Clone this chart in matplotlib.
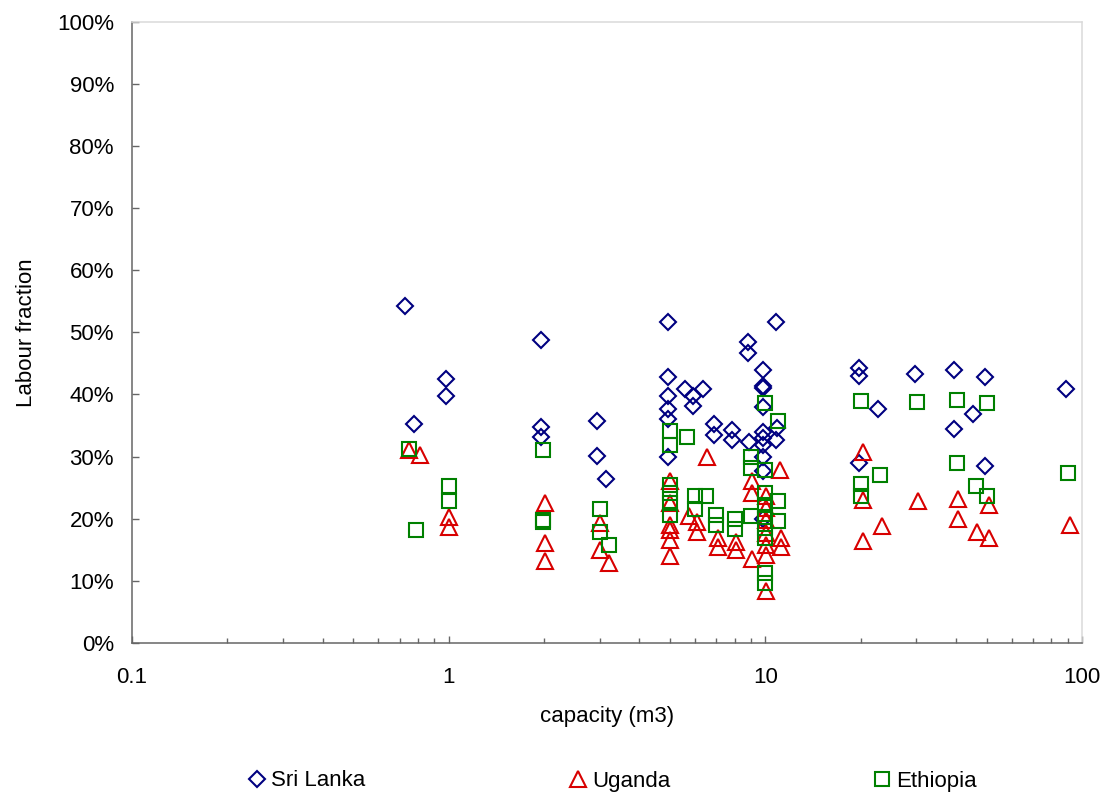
import matplotlib
matplotlib.use("Agg")
import matplotlib.pyplot as plt
from matplotlib.ticker import PercentFormatter, LogLocator, FixedLocator, NullFormatter, FixedFormatter
from matplotlib.lines import Line2D

plt.rcParams['font.family'] = ['Liberation Sans', 'DejaVu Sans']

# ---- data (capacity m3, labour fraction) ----
sri_x = [0.73, 0.78, 0.98, 0.98, 1.95, 1.95, 1.95, 2.93, 2.93, 3.13,
         4.91, 4.91, 4.91, 4.91, 4.91, 4.91,
         5.56, 5.9, 5.9, 6.36, 6.86, 6.86, 7.86, 7.86,
         8.79, 8.79, 8.85,
         9.84, 9.84, 9.84, 9.84, 9.84, 9.84, 9.84, 9.84, 9.84, 9.84,
         10.78, 10.9, 10.8,
         19.7, 19.7, 19.7, 22.7, 29.6, 39.4, 39.4, 45.3, 49.3, 49.3, 88.8]
sri_y = [0.542, 0.353, 0.425, 0.397, 0.487, 0.348, 0.332, 0.357, 0.301, 0.264,
         0.517, 0.428, 0.397, 0.377, 0.361, 0.300,
         0.409, 0.398, 0.381, 0.409, 0.353, 0.335, 0.343, 0.326,
         0.484, 0.466, 0.324,
         0.439, 0.413, 0.410, 0.380, 0.340, 0.330, 0.319, 0.300, 0.277, 0.200,
         0.517, 0.346, 0.327,
         0.442, 0.430, 0.289, 0.376, 0.433, 0.439, 0.344, 0.369, 0.428, 0.285, 0.408]

uga_x = [0.75, 0.81, 1.0, 1.0, 2.01, 2.01, 2.01, 3.0, 3.0, 3.22,
         5.0, 5.0, 5.0, 5.0, 5.0, 5.0, 5.73, 6.08, 6.08, 6.55,
         7.07, 7.07, 8.09, 8.09, 9.06, 9.06, 9.06,
         10.05, 10.05, 10.05, 10.05, 10.05, 10.05, 10.05,
         11.13, 11.2, 11.2,
         20.3, 20.3, 20.3, 23.3, 30.4, 40.5, 40.5, 46.5, 50.8, 50.8, 91.4]
uga_y = [0.311, 0.302, 0.202, 0.186, 0.226, 0.161, 0.132, 0.193, 0.150, 0.129,
         0.260, 0.225, 0.190, 0.182, 0.166, 0.140, 0.204, 0.195, 0.178, 0.300,
         0.169, 0.154, 0.162, 0.149, 0.261, 0.242, 0.135,
         0.236, 0.217, 0.198, 0.177, 0.158, 0.142, 0.083,
         0.279, 0.169, 0.155,
         0.308, 0.230, 0.164, 0.189, 0.229, 0.231, 0.200, 0.178, 0.222, 0.169, 0.190]

eth_x = [0.75, 0.79, 1.0, 1.0, 1.99, 1.99, 1.99, 3.0, 3.0, 3.2,
         5.0, 5.0, 5.0, 5.0, 5.0, 5.0, 5.67, 6.0, 6.0, 6.49,
         7.0, 7.0, 8.0, 8.0, 8.99, 8.99, 8.99,
         10.0, 10.0, 10.0, 10.0, 10.0, 10.0, 10.0, 10.0, 10.0,
         10.97, 11.0, 11.0,
         20.1, 20.1, 20.1, 23.1, 30.1, 40.2, 40.2, 46.3, 50.3, 50.3, 90.6]
eth_y = [0.312, 0.182, 0.252, 0.229, 0.310, 0.198, 0.194, 0.216, 0.178, 0.157,
         0.341, 0.318, 0.254, 0.241, 0.225, 0.206, 0.332, 0.236, 0.216, 0.236,
         0.206, 0.190, 0.200, 0.183, 0.300, 0.281, 0.204,
         0.386, 0.279, 0.241, 0.222, 0.203, 0.185, 0.169, 0.112, 0.096,
         0.358, 0.228, 0.197,
         0.390, 0.256, 0.236, 0.271, 0.388, 0.391, 0.290, 0.253, 0.386, 0.237, 0.273]

series_names = ["Sri Lanka", "Uganda", "Ethiopia"]

NAVY = '#000080'
RED = '#D80000'
GREEN = '#008000'

MS_D, MS_T, MS_S = 7.8, 11.0, 9.8
mew = 1.5

fig = plt.figure(figsize=(11.13, 7.94), dpi=100)
ax = fig.add_axes([132/1113, 1-643/794, 950/1113, 621.5/794])

ax.plot(sri_x, sri_y, linestyle='none', marker='D', ms=MS_D, mfc='none', mec=NAVY, mew=mew, label=series_names[0])
ax.plot(uga_x, uga_y, linestyle='none', marker='^', ms=MS_T, mfc='none', mec=RED, mew=mew, label=series_names[1])
ax.plot(eth_x, eth_y, linestyle='none', marker='s', ms=MS_S, mfc='none', mec=GREEN, mew=mew, label=series_names[2])

ax.set_xscale('log')
ax.set_xlim(0.1, 100)
ax.set_ylim(0, 1)
ax.yaxis.set_major_locator(FixedLocator([i/10 for i in range(11)]))
ax.yaxis.set_major_formatter(PercentFormatter(1.0, decimals=0))
ax.xaxis.set_major_locator(FixedLocator([0.1, 1, 10, 100]))
ax.xaxis.set_major_formatter(FixedFormatter(['0.1', '1', '10', '100']))
ax.xaxis.set_minor_locator(LogLocator(base=10, subs=range(2, 10)))
ax.xaxis.set_minor_formatter(NullFormatter())

spine_dark = '#666666'
spine_light = '#DADADA'
for s in ['left', 'bottom']:
    ax.spines[s].set_color(spine_dark)
    ax.spines[s].set_linewidth(1.1)
for s in ['top', 'right']:
    ax.spines[s].set_color(spine_light)
    ax.spines[s].set_linewidth(1.1)

ax.tick_params(axis='y', which='major', direction='in', length=5, width=1, color=spine_dark,
               labelsize=16, pad=13)
ax.tick_params(axis='x', which='major', direction='in', length=5, width=1, color=spine_dark,
               labelsize=16, pad=17.5)
ax.tick_params(axis='x', which='minor', direction='in', length=3.5, width=1, color=spine_dark)

ax.set_xlabel('capacity (m3)', fontsize=16)
ax.set_ylabel('Labour fraction', fontsize=16)
ax.xaxis.set_label_coords(0.5, -0.101)
ax.yaxis.set_label_coords(-0.1003, 0.5)

handles = [
    Line2D([], [], linestyle='none', marker='D', ms=MS_D, mfc='none', mec=NAVY, mew=mew),
    Line2D([], [], linestyle='none', marker='^', ms=MS_T, mfc='none', mec=RED, mew=mew),
    Line2D([], [], linestyle='none', marker='s', ms=MS_S, mfc='none', mec=GREEN, mew=mew),
]
fig.legend(handles, series_names, loc='center left', bbox_to_anchor=((257.3-7.8)/1113, 1-781/794),
           ncol=3, frameon=False, fontsize=16, borderpad=0, borderaxespad=0,
           handlelength=0.7, handletextpad=0.28, columnspacing=9.2, numpoints=1)

fig.savefig('out.png', dpi=100)
